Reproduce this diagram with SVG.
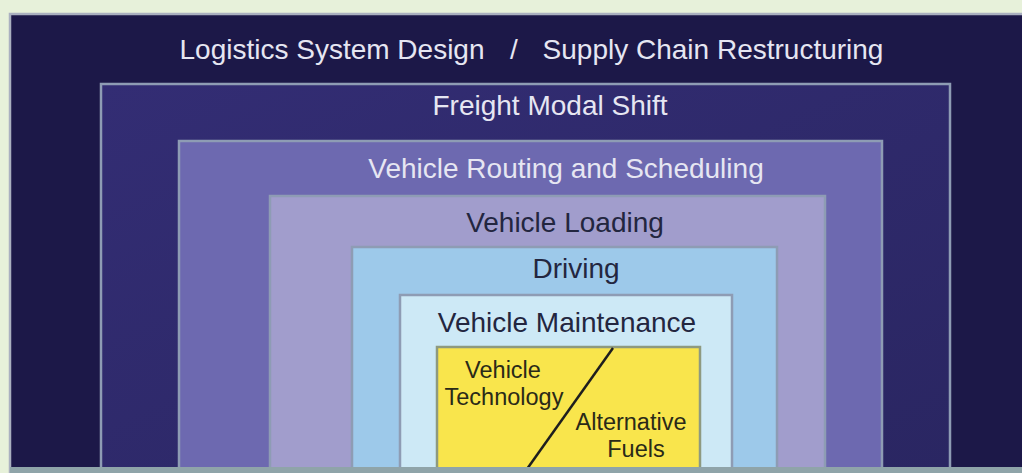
<svg xmlns="http://www.w3.org/2000/svg" width="1022" height="473" viewBox="0 0 1022 473">
  <style>
    text { font-family: "Liberation Sans", Arial, sans-serif; text-anchor: middle; }
    .lt { fill: #e6e6f2; font-size: 28px; }
    .dk { fill: #23263f; font-size: 28px; }
    .yl { fill: #2a2a18; font-size: 23.5px; }
    .box { stroke: #8e9cb4; stroke-width: 2.5; }
  </style>
  <defs>
    <linearGradient id="gFreight" x1="0" y1="0" x2="1" y2="1">
      <stop offset="0" stop-color="#332d74"/>
      <stop offset="1" stop-color="#2a2662"/>
    </linearGradient>
  </defs>
  <rect x="0" y="0" width="1022" height="473" fill="#e7f1da"/>

  <g id="logistics">
    <rect x="10" y="14" width="1014" height="458" fill="#1c1848" stroke="#aab0c0" stroke-width="2.5"/>
    <text class="lt" y="59"><tspan x="332">Logistics System Design</tspan><tspan x="514">/</tspan><tspan x="713">Supply Chain Restructuring</tspan></text>
  </g>

  <g id="freight">
    <rect class="box" x="101" y="84" width="849" height="388" fill="url(#gFreight)"/>
    <text class="lt" x="550" y="115">Freight Modal Shift</text>
  </g>

  <g id="routing">
    <rect class="box" x="179" y="141" width="703" height="331" fill="#6d69b0"/>
    <text class="lt" x="566" y="178">Vehicle Routing and Scheduling</text>
  </g>

  <g id="loading">
    <rect class="box" x="270" y="196" width="555" height="276" fill="#a19dcc"/>
    <text class="dk" x="565" y="232">Vehicle Loading</text>
  </g>

  <g id="driving">
    <rect class="box" x="352" y="247" width="425" height="225" fill="#9dc9ea"/>
    <text class="dk" x="576" y="278">Driving</text>
  </g>

  <g id="maintenance">
    <rect class="box" x="400" y="295" width="332" height="177" fill="#cde9f6"/>
    <text class="dk" x="567" y="332">Vehicle Maintenance</text>
  </g>

  <g id="technology">
    <rect x="437" y="347" width="263" height="125" fill="#f9e54c" stroke="#8e9a80" stroke-width="2.5"/>
    <text class="yl" x="503" y="378">Vehicle</text>
    <text class="yl" x="504" y="405">Technology</text>
    <text class="yl" x="631" y="430">Alternative</text>
    <text class="yl" x="636" y="457">Fuels</text>
  </g>

  <g id="connectors">
    <line x1="613" y1="348" x2="527" y2="469" stroke="#1e1e1e" stroke-width="2.5"/>
  </g>

  <rect x="10" y="467" width="1012" height="6" fill="#8fa4a9"/>
</svg>
